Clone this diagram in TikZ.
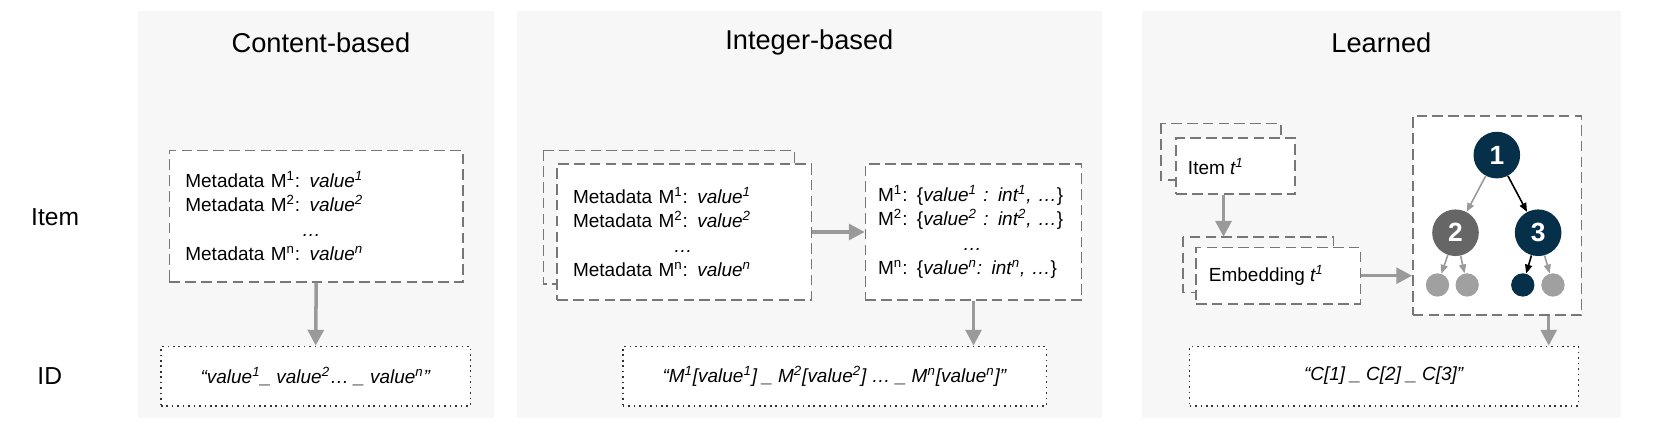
\documentclass[tikz,border=0pt]{standalone}
\usepackage{fontspec}
\setmainfont{Liberation Sans}
\usetikzlibrary{positioning,arrows.meta}
\definecolor{panelbg}{HTML}{F7F7F7}
\definecolor{boxline}{HTML}{777777}
\definecolor{arrowgray}{HTML}{9A9A9A}
\definecolor{navy}{HTML}{06304A}
\definecolor{midgray}{HTML}{666666}
\definecolor{leafgray}{HTML}{A0A0A0}
\newlength{\pxu}
\setlength{\pxu}{0.02119cm}
\tikzset{
  panel/.style={fill=panelbg, draw=none},
  dbox/.style={draw=boxline, line width=0.9pt, dash pattern=on 6pt off 3pt, inner sep=0pt},
  fbox/.style={dbox, fill=white},
  idbox/.style={draw=black!80, line width=0.9pt, dash pattern=on 0.9pt off 2.2pt, fill=white, inner sep=0pt},
  flow/.style={-{Triangle[length=9pt,width=9pt]}, draw=arrowgray, line width=2pt},
  title/.style={font=\fontsize{15.5}{18}\selectfont},
  body/.style={font=\fontsize{10.8}{13.8}\selectfont},
  meta/.style={body, align=left, inner xsep=15\pxu, text width=#1},
  tnode/.style={circle, minimum size=44\pxu, inner sep=0pt, text=white, font=\fontsize{15}{15}\selectfont\bfseries},
  leaf/.style={circle, minimum size=22\pxu, inner sep=0pt},
  tree/.style={-{Triangle[length=5pt,width=4pt]}, line width=0.9pt},
}
\begin{document}
\begin{tikzpicture}[x=0.02119cm, y=-0.02119cm]
\useasboundingbox (0,0) rectangle (1568,402);
% panels
\fill[panel] (130,10) rectangle (466,395);
\fill[panel] (488,10) rectangle (1040,395);
\fill[panel] (1078,10) rectangle (1530,395);

% titles and row labels
\node[title] (tcontent) at (303,40) {Content-based};
\node[title] (tinteger) at (764,40) {Integer-based};
\node[title] (tlearned) at (1304,40) {Learned};
\node[title, font=\fontsize{14}{16}\selectfont] (litem) at (52,205) {Item};
\node[title, font=\fontsize{14}{16}\selectfont] (lid) at (47,355) {ID};

% content-based
\node[fbox, meta=247\pxu, minimum height=124\pxu] (cmeta) at (298.5,204) {%
  Metadata M\textsuperscript{1}: \textit{value\textsuperscript{1}}\\
  Metadata M\textsuperscript{2}: \textit{value\textsuperscript{2}}\\
  \hspace*{110\pxu}\textit{\dots}\\
  Metadata M\textsuperscript{n}: \textit{value\textsuperscript{n}}};
\node[idbox, minimum width=292\pxu, minimum height=56\pxu, body] (cid) at (298,355) {%
  \textit{“value\textsuperscript{1}\_ value\textsuperscript{2}\dots\ \_ value\textsuperscript{n}”}};
\draw[flow] (cmeta.south) -- (cid.north);

% integer-based
\draw[dbox] (513,142) rectangle (750,268);
\node[fbox, meta=210\pxu, minimum height=128\pxu] (imeta) at (646,219) {%
  Metadata M\textsuperscript{1}: \textit{value\textsuperscript{1}}\\
  Metadata M\textsuperscript{2}: \textit{value\textsuperscript{2}}\\
  \hspace*{95\pxu}\textit{\dots}\\
  Metadata M\textsuperscript{n}: \textit{value\textsuperscript{n}}};
\node[fbox, meta=180\pxu, inner xsep=12\pxu, minimum height=128\pxu] (imap) at (919,219) {%
  M\textsuperscript{1}: \{\textit{value\textsuperscript{1} : int\textsuperscript{1}, \dots}\}\\
  M\textsuperscript{2}: \{\textit{value\textsuperscript{2} : int\textsuperscript{2}, \dots}\}\\
  \hspace*{80\pxu}\textit{\dots}\\
  M\textsuperscript{n}: \{\textit{value\textsuperscript{n}: int\textsuperscript{n}, \dots}\}};
\node[idbox, minimum width=400\pxu, minimum height=56\pxu, body] (iid) at (788,355) {%
  \textit{“M\textsuperscript{1}[value\textsuperscript{1}] \_ M\textsuperscript{2}[value\textsuperscript{2}] \dots\ \_ M\textsuperscript{n}[value\textsuperscript{n}]”}};
\draw[flow] (imeta.east) -- (imap.west);
\draw[flow] (imap.south) -- (imap.south |- iid.north);

% learned
\draw[dbox] (1096,116.5) rectangle (1209,170);
\node[fbox, minimum width=112\pxu, minimum height=53\pxu, anchor=north west] (litemt) at (1109.6,129.6) {};
\node[body, anchor=west] (litemtxt) at ([xshift=6\pxu]litemt.west) {Item \textit{t\textsuperscript{1}}};
\draw[dbox] (1116.8,223.5) rectangle (1259,276);
\node[fbox, minimum width=155\pxu, minimum height=53\pxu, anchor=north west] (lemb) at (1128.4,233) {};
\node[body, anchor=west] (lembtxt) at ([xshift=7\pxu]lemb.west) {Embedding \textit{t\textsuperscript{1}}};
\node[fbox, minimum width=159\pxu, minimum height=188\pxu, anchor=north west] (ltree) at (1333,108.6) {};
\node[idbox, minimum width=367\pxu, minimum height=56\pxu, body] (lid) at (1306.5,355) {%
  \textit{“C[1] \_ C[2] \_ C[3]”}};
\draw[flow] (litemt.south -| 1155,0) -- (1155,223.5);
\draw[flow] (lemb.east) -- (ltree.west |- lemb.east);
\draw[flow] (ltree.south -| 1462,0) -- (lid.north -| 1462,0);

% tree
\node[tnode, fill=navy] (n1) at (1413,146.4) {1};
\node[tnode, fill=midgray] (n2) at (1374,219.7) {2};
\node[tnode, fill=navy] (n3) at (1452,219.7) {3};
\node[leaf, fill=leafgray] (n21) at (1357,269) {};
\node[leaf, fill=leafgray] (n22) at (1385,269) {};
\node[leaf, fill=navy] (n31) at (1437.5,269) {};
\node[leaf, fill=leafgray] (n32) at (1466,269) {};
\draw[tree, arrowgray] (n1) -- (n2);
\draw[tree, black] (n1) -- (n3);
\draw[tree, arrowgray] (n2) -- (n21);
\draw[tree, arrowgray] (n2) -- (n22);
\draw[tree, black] (n3) -- (n31);
\draw[tree, arrowgray] (n3) -- (n32);
\end{tikzpicture}
\end{document}
